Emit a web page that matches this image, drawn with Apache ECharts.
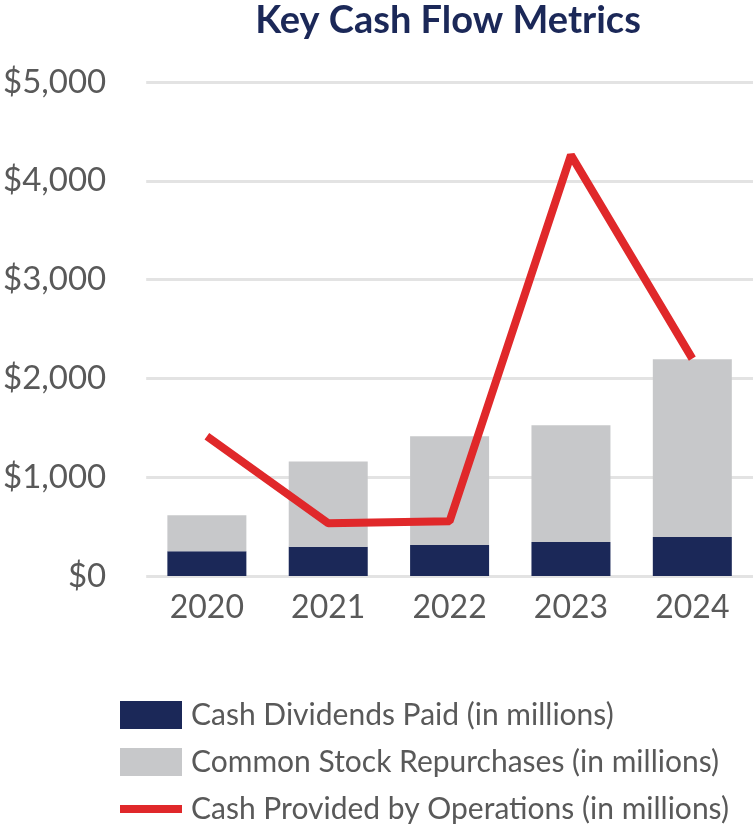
<!DOCTYPE html>
<html>
<head>
<meta charset="utf-8">
<script src="https://cdn.jsdelivr.net/npm/echarts@6/dist/echarts.min.js"></script>
<style>
html, body { margin: 0; padding: 0; background: #fff; }
#main { width: 753px; height: 824px; }
</style>
</head>
<body>
<div id="main"></div>
<script>
// data (in millions)
var years = ["2020", "2021", "2022", "2023", "2024"];
var dividends = [250, 295, 315, 345, 395];
var repurchases = [365, 865, 1100, 1180, 1800];
var operations = [1415, 535, 555, 4260, 2200];
var yTicks = [0, 1000, 2000, 3000, 4000, 5000];

var navy = "#1b2858";
var grey = "#c7c8ca";
var red = "#e0282a";
var textGrey = "#595959";

var myChart = echarts.init(document.getElementById("main"));
var option = {
    animation: false,
    backgroundColor: "#fff",
    title: {
        text: "Key Cash Flow Metrics",
        left: 448,
        textAlign: "center",
        top: 2,
        padding: 0,
        textStyle: { fontFamily: "Lato", fontWeight: "bold", fontSize: 38, color: navy }
    },
    legend: {
        orient: "vertical",
        left: 111,
        top: 695,
        height: 140,
        itemWidth: 62,
        itemHeight: 28,
        itemGap: 17,
        lineStyle: { width: 8 },
        textStyle: { fontFamily: "Lato", fontSize: 30, color: textGrey, padding: [0, 0, 0, 4] },
        data: [
            { name: "Cash Dividends Paid (in millions)", icon: "rect" },
            { name: "Common Stock Repurchases (in millions)", icon: "rect" },
            {
                name: "Cash Provided by Operations (in millions)",
                itemStyle: { color: "rgba(0,0,0,0)", borderWidth: 0, opacity: 0 }
            }
        ]
    },
    grid: { left: 143, right: 0, top: 82, height: 494, containLabel: false },
    xAxis: {
        type: "category",
        data: years,
        axisLine: { show: false },
        axisTick: { show: false },
        axisLabel: { fontFamily: "Lato", fontSize: 32, color: textGrey, margin: 16 }
    },
    yAxis: {
        type: "value",
        min: yTicks[0],
        max: yTicks[yTicks.length - 1],
        interval: 1000,
        axisLine: { show: false },
        axisTick: { show: false },
        splitLine: { lineStyle: { color: "#e3e3e3", width: 3 } },
        axisLabel: {
            fontFamily: "Lato", fontSize: 33, color: textGrey, margin: 40,
            formatter: function (v) { return "$" + v.toLocaleString("en-US"); }
        }
    },
    series: [
        {
            name: "Cash Dividends Paid (in millions)",
            type: "bar",
            stack: "cash",
            barWidth: 79,
            itemStyle: { color: navy },
            data: dividends
        },
        {
            name: "Common Stock Repurchases (in millions)",
            type: "bar",
            stack: "cash",
            barWidth: 79,
            itemStyle: { color: grey },
            data: repurchases
        },
        {
            name: "Cash Provided by Operations (in millions)",
            type: "line",
            symbol: "none",
            z: 5,
            lineStyle: { color: red, width: 8, join: "bevel", cap: "butt" },
            itemStyle: { color: red },
            data: operations
        }
    ]
};
myChart.setOption(option);
</script>
</body>
</html>
